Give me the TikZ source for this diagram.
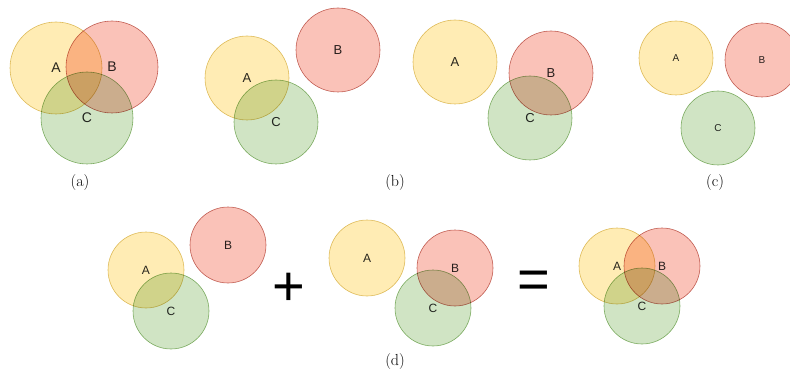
\documentclass[tikz,border=0pt]{standalone}
\usepackage{fontspec}
\newfontfamily\lab{Liberation Sans}
\definecolor{ya}{RGB}{255,236,180}
\definecolor{ra}{RGB}{250,194,184}
\definecolor{ga}{RGB}{208,228,196}
\definecolor{ys}{RGB}{222,196,110}
\definecolor{rs}{RGB}{196,110,100}
\definecolor{gs}{RGB}{140,184,114}
\definecolor{txt}{RGB}{40,40,40}
\tikzset{
  venn/.style={circle, inner sep=0pt, line width=0.6pt, text=txt},
  sa/.style={venn, fill=ya, draw=ys},
  sb/.style={venn, fill=ra, draw=rs},
  sc/.style={venn, fill=ga, draw=gs},
  grpa/.style={minimum size=92pt, font=\lab\fontsize{14}{14}\selectfont},
  grpb/.style={minimum size=84pt, font=\lab\fontsize{13}{13}\selectfont},
  grpc/.style={minimum size=74pt, font=\lab\fontsize{10}{10}\selectfont},
  grpd/.style={minimum size=76pt, font=\lab\fontsize{12}{12}\selectfont},
  captext/.style={font=\fontsize{16}{18}\selectfont},
  optext/.style={font=\lab\fontsize{56}{56}\selectfont, inner sep=0pt}
}
\begin{document}
\begin{tikzpicture}[x=1pt,y=-1pt]
\useasboundingbox (0,0) rectangle (790,377);
\begin{scope}[blend mode=multiply]
% (a)
\node[sa,grpa] (a1) at (56,68) {A};
\node[sb,grpa] (b1) at (112,67) {B};
\node[sc,grpa] (c1) at (87,118) {C};
% (b) left
\node[sa,grpb] (a2) at (247,78) {A};
\node[sb,grpb] (b2) at (338,50) {B};
\node[sc,grpb] (c2) at (276,122) {C};
% (b) right
\node[sa,grpb] (a3) at (455,62) {A};
\node[sb,grpb] (b3) at (551,73) {B};
\node[sc,grpb] (c3) at (530,118) {C};
% (c)
\node[sa,grpc] (a4) at (676,58) {A};
\node[sb,grpc] (b4) at (762,60) {B};
\node[sc,grpc] (c4) at (718,128) {C};
% (d) left
\node[sa,grpd] (a5) at (146,270) {A};
\node[sb,grpd] (b5) at (228,245) {B};
\node[sc,grpd] (c5) at (171,311) {C};
% (d) middle
\node[sa,grpd] (a6) at (367,258) {A};
\node[sb,grpd] (b6) at (455,268) {B};
\node[sc,grpd] (c6) at (433,308) {C};
% (d) right
\node[sa,grpd] (a7) at (617,266) {A};
\node[sb,grpd] (b7) at (662,266) {B};
\node[sc,grpd] (c7) at (642,306) {C};
\end{scope}
\node[optext] (plus) at (289,289) {+};
\node[optext] (eq) at (534,285) {=};
\node[captext] (capa) at (80,183) {(a)};
\node[captext] (capb) at (395,183) {(b)};
\node[captext] (capc) at (715,183) {(c)};
\node[captext] (capd) at (395,362) {(d)};
\end{tikzpicture}
\end{document}
